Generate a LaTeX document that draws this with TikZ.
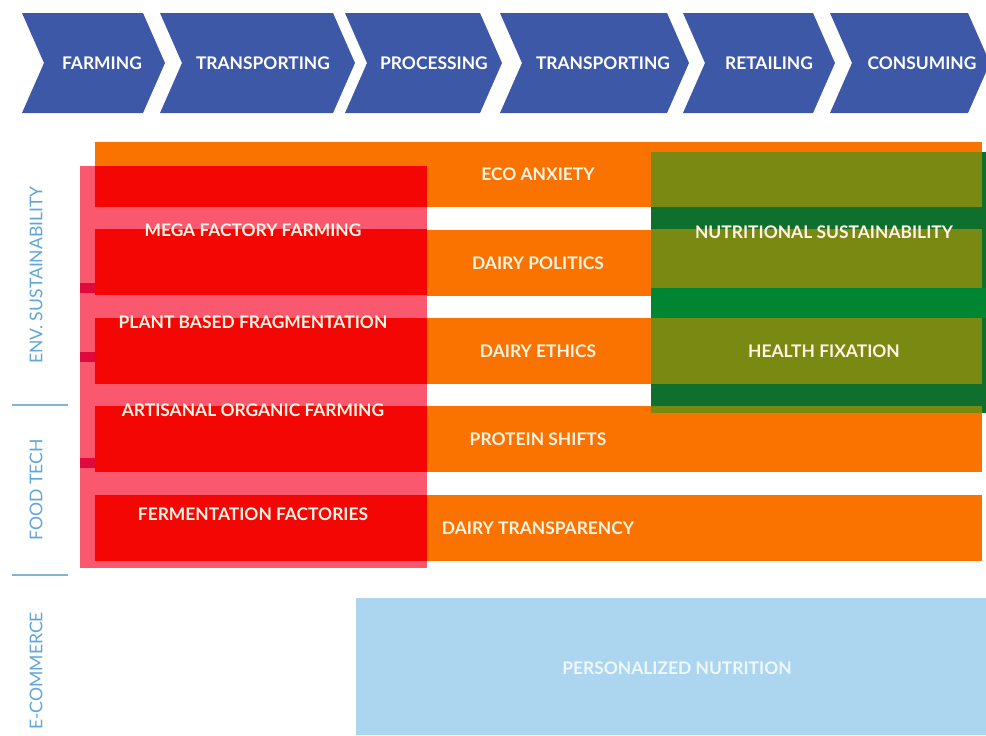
\documentclass[tikz,border=0pt]{standalone}
\usepackage{fontspec}
\setmainfont{Lato}
\usetikzlibrary{positioning}
\definecolor{chain}{RGB}{62,88,168}
\definecolor{trendorange}{RGB}{250,115,0}
\definecolor{pinkred}{RGB}{250,88,110}
\definecolor{hotred}{RGB}{244,6,4}
\definecolor{darkmark}{RGB}{225,8,60}
\definecolor{olivegreen}{RGB}{121,137,17}
\definecolor{deepgreen}{RGB}{14,112,44}
\definecolor{midgreen}{RGB}{0,134,50}
\definecolor{sky}{RGB}{172,214,240}
\definecolor{cream}{RGB}{255,244,228}
\definecolor{axisblue}{RGB}{95,165,215}
\definecolor{sepblue}{RGB}{130,180,215}

\begin{document}
\begin{tikzpicture}[x=0.02cm,y=-0.02cm,
  steplabel/.style={font=\bfseries\fontsize{9.9}{11}\selectfont, text=white},
  trendlabel/.style={font=\bfseries\fontsize{9.9}{11}\selectfont, text=cream},
  arealabel/.style={font=\fontsize{10}{11}\selectfont, text=axisblue, rotate=90},
  sep/.style={draw=sepblue, line width=0.8pt}]
 \useasboundingbox (0,0) rectangle (986,735);
 \clip (0,0) rectangle (986,735);

 % value chain
 \foreach \i/\l/\r/\c/\name in {1/22/143/102/FARMING, 2/160/333/263/TRANSPORTING,
   3/345/480/434/PROCESSING, 4/500/667/603/TRANSPORTING, 5/683/813/769/RETAILING,
   6/830/968/922/CONSUMING} {
  \fill[chain] (\l,13) -- (\r,13) -- (\r+22,63) -- (\r,113) -- (\l,113) -- (\l+22,63) -- cycle;
  \node[steplabel] (s\i) at (\c,63) {\name};
 }

 % orange rows
 \foreach \t/\b in {142/207,230/296,318/384,406/472,495/561} {
  \fill[trendorange] (95,\t) rectangle (982,\b);
 }

 % green block
 \fill[deepgreen] (651,152) rectangle (986,413);
 \fill[midgreen] (651,288) rectangle (986,318);
 \foreach \t/\b in {152/207,229/288,318/384,406/413} {
  \fill[olivegreen] (651,\t) rectangle (982,\b);
 }

 % red block
 \fill[pinkred] (80,166) rectangle (427,568);
 \foreach \t/\b in {166/207,229/295,318/384,406/472,495/561} {
  \fill[hotred] (95,\t) rectangle (427,\b);
 }
 \foreach \t in {283,352,458} {
  \fill[darkmark] (80,\t) rectangle (95,\t+10);
 }

 % e-commerce
 \fill[sky] (356,598) rectangle (986,735);

 % trends
 \node[trendlabel] (o1) at (538,174) {ECO ANXIETY};
 \node[trendlabel] (o2) at (538,263) {DAIRY POLITICS};
 \node[trendlabel] (o3) at (538,351) {DAIRY ETHICS};
 \node[trendlabel] (o4) at (538,439) {PROTEIN SHIFTS};
 \node[trendlabel] (o5) at (538,528) {DAIRY TRANSPARENCY};

 \node[trendlabel] (r1) at (253,230) {MEGA FACTORY FARMING};
 \node[trendlabel] (r2) at (253,322) {PLANT BASED FRAGMENTATION};
 \node[trendlabel] (r3) at (253,410) {ARTISANAL ORGANIC FARMING};
 \node[trendlabel] (r4) at (253,514) {FERMENTATION FACTORIES};

 \node[trendlabel] (g1) at (824,232) {NUTRITIONAL SUSTAINABILITY};
 \node[trendlabel] (g2) at (824,351) {HEALTH FIXATION};

 \node[trendlabel, text=white!80!sky] (b1) at (677,668) {PERSONALIZED NUTRITION};

 % areas
 \node[arealabel] (a1) at (36,275) {ENV. SUSTAINABILITY};
 \node[arealabel] (a2) at (36,490) {FOOD TECH};
 \node[arealabel] (a3) at (36,671) {E-COMMERCE};
 \draw[sep] (12,405) -- (68,405);
 \draw[sep] (12,575) -- (68,575);
\end{tikzpicture}
\end{document}
